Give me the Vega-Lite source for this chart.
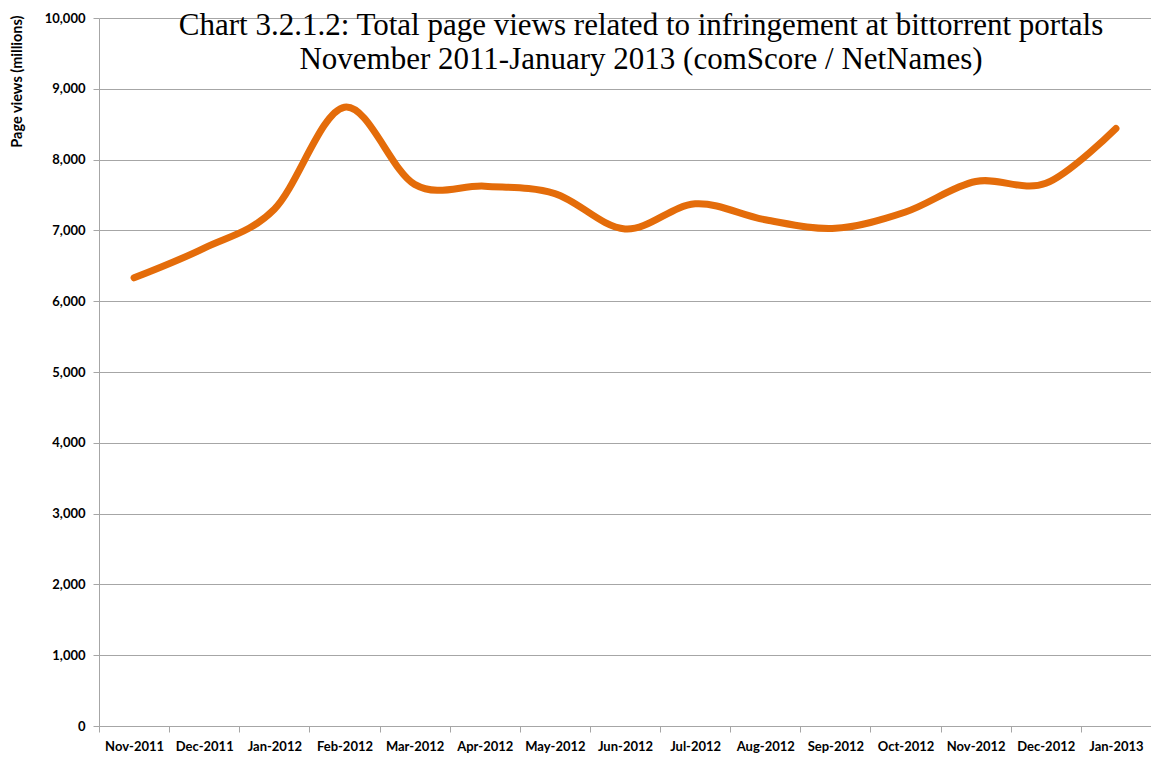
{
  "$schema": "https://vega.github.io/schema/vega-lite/v6.json",
  "width": 1052,
  "height": 708,
  "autosize": {"type": "none"},
  "padding": {"left": 99, "top": 18, "right": 0, "bottom": 33},
  "background": "white",
  "title": {
    "text": ["Chart 3.2.1.2: Total page views related to infringement at bittorrent portals", "November 2011-January 2013 (comScore / NetNames)"],
    "font": "Liberation Serif",
    "fontSize": 31,
    "fontWeight": "normal",
    "color": "black",
    "lineHeight": 34,
    "baseline": "alphabetic",
    "offset": -88,
    "dx": 16,
    "anchor": "middle",
    "frame": "group"
  },
  "config": {
    "view": {"stroke": null}
  },
  "data": {
    "values": [
      {"month": "Nov-2011", "views": 6330},
      {"month": "Dec-2011", "views": 6750},
      {"month": "Jan-2012", "views": 7300},
      {"month": "Feb-2012", "views": 8740},
      {"month": "Mar-2012", "views": 7650},
      {"month": "Apr-2012", "views": 7625},
      {"month": "May-2012", "views": 7520},
      {"month": "Jun-2012", "views": 7020},
      {"month": "Jul-2012", "views": 7375},
      {"month": "Aug-2012", "views": 7150},
      {"month": "Sep-2012", "views": 7030},
      {"month": "Oct-2012", "views": 7260},
      {"month": "Nov-2012", "views": 7690},
      {"month": "Dec-2012", "views": 7665},
      {"month": "Jan-2013", "views": 8440}
    ]
  },
  "mark": {"type": "line", "interpolate": "cardinal", "color": "#E46C0A", "strokeWidth": 7, "strokeCap": "round", "strokeJoin": "round"},
  "encoding": {
    "x": {
      "field": "month",
      "type": "ordinal",
      "sort": null,
      "scale": {"type": "band", "paddingInner": 0, "paddingOuter": 0},
      "axis": {
        "title": null,
        "labelAngle": 0,
        "labelFont": "Lato",
        "labelFontWeight": "bold",
        "labelFontSize": 13,
        "labelColor": "black",
        "labelPadding": 8,
        "labelOverlap": false,
        "labelFlush": false,
        "tickBand": "extent",
        "tickSize": 6,
        "tickColor": "#a6a6a6",
        "domainColor": "#a6a6a6",
        "grid": false
      }
    },
    "y": {
      "field": "views",
      "type": "quantitative",
      "scale": {"domain": [0, 10000], "nice": false},
      "axis": {
        "values": [0, 1000, 2000, 3000, 4000, 5000, 6000, 7000, 8000, 9000, 10000],
        "format": ",d",
        "grid": true,
        "gridColor": "#a6a6a6",
        "gridWidth": 1,
        "domainColor": "#a6a6a6",
        "tickColor": "#a6a6a6",
        "tickSize": 6,
        "labelFont": "Lato",
        "labelFontWeight": "bold",
        "labelFontSize": 13,
        "labelColor": "black",
        "labelPadding": 8,
        "title": "Page views (millions)",
        "titleFont": "Lato",
        "titleFontWeight": "bold",
        "titleFontSize": 14.5,
        "titleColor": "black",
        "titleX": -82,
        "titleY": -3,
        "titleAlign": "right",
        "titleAngle": -90,
        "titleBaseline": "middle"
      }
    }
  }
}
